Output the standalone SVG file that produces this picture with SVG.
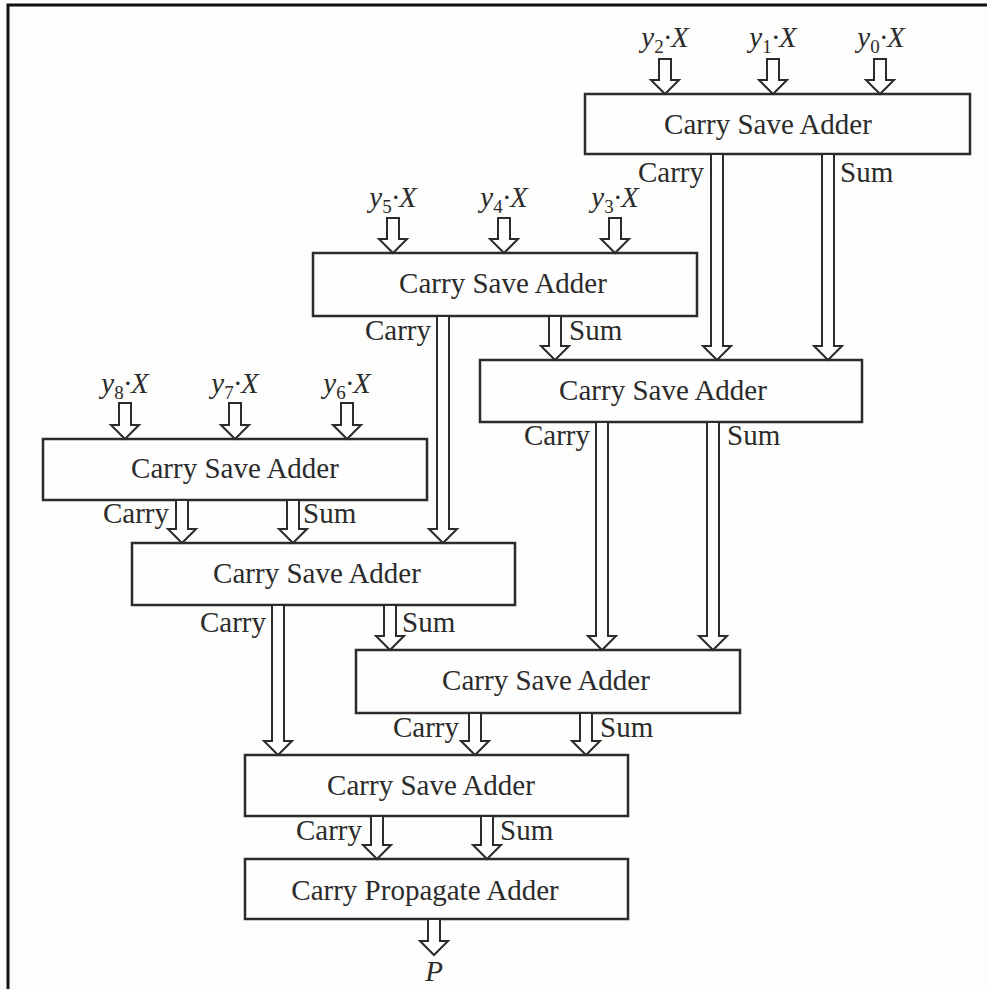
<svg xmlns="http://www.w3.org/2000/svg" width="987" height="989" viewBox="0 0 987 989">
<style>
.bg{fill:#fdfdfb}
.box{fill:#fefefe;stroke:#2b2b2b;stroke-width:2.5}
.t{font-family:"Liberation Serif","Times New Roman",serif;font-size:29px;fill:#2b2b2b}
.m{text-anchor:middle}
.e{text-anchor:end}
.it{font-style:italic}
.sub{font-style:normal;font-size:19px}
.arr{fill:#fefefe;stroke:#2b2b2b;stroke-width:2;stroke-linejoin:miter}
.frame{stroke:#111;stroke-width:3;fill:none}
</style>
<rect class="bg" x="0" y="0" width="987" height="989"/>
<path class="frame" d="M8,989 V5 H987"/>

<g id="csa1">
<rect class="box" x="585" y="94" width="385" height="60"/>
<text class="t m" x="768" y="134">Carry Save Adder</text>
</g>
<g id="csa2">
<rect class="box" x="313" y="253" width="384" height="63"/>
<text class="t m" x="503" y="293">Carry Save Adder</text>
</g>
<g id="csa3">
<rect class="box" x="480" y="360" width="382" height="62"/>
<text class="t m" x="663" y="400">Carry Save Adder</text>
</g>
<g id="csa4">
<rect class="box" x="43" y="439" width="384" height="61"/>
<text class="t m" x="235" y="478">Carry Save Adder</text>
</g>
<g id="csa5">
<rect class="box" x="132" y="543" width="383" height="62"/>
<text class="t m" x="317" y="583">Carry Save Adder</text>
</g>
<g id="csa6">
<rect class="box" x="356" y="650" width="384" height="63"/>
<text class="t m" x="546" y="690">Carry Save Adder</text>
</g>
<g id="csa7">
<rect class="box" x="245" y="755" width="383" height="61"/>
<text class="t m" x="431" y="795">Carry Save Adder</text>
</g>
<g id="cpa">
<rect class="box" x="245" y="859" width="383" height="60"/>
<text class="t m" x="425" y="900">Carry Propagate Adder</text>
</g>

<g id="inputs">
<text class="t m it" x="665" y="47">y<tspan class="sub" dy="6">2</tspan><tspan dy="-6">·X</tspan></text>
<text class="t m it" x="773" y="47">y<tspan class="sub" dy="6">1</tspan><tspan dy="-6">·X</tspan></text>
<text class="t m it" x="881" y="47">y<tspan class="sub" dy="6">0</tspan><tspan dy="-6">·X</tspan></text>
<text class="t m it" x="393" y="207">y<tspan class="sub" dy="6">5</tspan><tspan dy="-6">·X</tspan></text>
<text class="t m it" x="504" y="207">y<tspan class="sub" dy="6">4</tspan><tspan dy="-6">·X</tspan></text>
<text class="t m it" x="615" y="207">y<tspan class="sub" dy="6">3</tspan><tspan dy="-6">·X</tspan></text>
<text class="t m it" x="125" y="393">y<tspan class="sub" dy="6">8</tspan><tspan dy="-6">·X</tspan></text>
<text class="t m it" x="235" y="393">y<tspan class="sub" dy="6">7</tspan><tspan dy="-6">·X</tspan></text>
<text class="t m it" x="347" y="393">y<tspan class="sub" dy="6">6</tspan><tspan dy="-6">·X</tspan></text>
<text id="out-p" class="t m it" x="434" y="981">P</text>
</g>

<g id="connectors">
<polygon class="arr" points="659,59 659,80 651,80 665,94 679,80 671,80 671,59"/>
<polygon class="arr" points="767,59 767,80 759,80 773,94 787,80 779,80 779,59"/>
<polygon class="arr" points="874,59 874,80 866,80 880,94 894,80 886,80 886,59"/>
<polygon class="arr" points="387,218 387,239 379,239 393,253 407,239 399,239 399,218"/>
<polygon class="arr" points="498,218 498,239 490,239 504,253 518,239 510,239 510,218"/>
<polygon class="arr" points="609,218 609,239 601,239 615,253 629,239 621,239 621,218"/>
<polygon class="arr" points="119,403 119,425 111,425 125,439 139,425 131,425 131,403"/>
<polygon class="arr" points="229,403 229,425 221,425 235,439 249,425 241,425 241,403"/>
<polygon class="arr" points="341,403 341,425 333,425 347,439 361,425 353,425 353,403"/>

<polygon class="arr" points="711,154 711,346 703,346 717,360 731,346 723,346 723,154"/>
<polygon class="arr" points="822,154 822,346 814,346 828,360 842,346 834,346 834,154"/>
<polygon class="arr" points="437,316 437,529 429,529 443,543 457,529 449,529 449,316"/>
<polygon class="arr" points="549,316 549,346 541,346 555,360 569,346 561,346 561,316"/>
<polygon class="arr" points="596,422 596,636 588,636 602,650 616,636 608,636 608,422"/>
<polygon class="arr" points="707,422 707,636 699,636 713,650 727,636 719,636 719,422"/>
<polygon class="arr" points="176,500 176,529 168,529 182,543 196,529 188,529 188,500"/>
<polygon class="arr" points="287,500 287,529 279,529 293,543 307,529 299,529 299,500"/>
<polygon class="arr" points="272,605 272,741 264,741 278,755 292,741 284,741 284,605"/>
<polygon class="arr" points="384,605 384,636 376,636 390,650 404,636 396,636 396,605"/>
<polygon class="arr" points="469,713 469,741 461,741 475,755 489,741 481,741 481,713"/>
<polygon class="arr" points="580,713 580,741 572,741 586,755 600,741 592,741 592,713"/>
<polygon class="arr" points="371,816 371,845 363,845 377,859 391,845 383,845 383,816"/>
<polygon class="arr" points="481,816 481,845 473,845 487,859 501,845 493,845 493,816"/>
<polygon class="arr" points="428,919 428,941 420,941 434,955 448,941 440,941 440,919"/>

<text class="t e" x="704" y="182">Carry</text>
<text class="t" x="840" y="182">Sum</text>
<text class="t e" x="431" y="340">Carry</text>
<text class="t" x="569" y="340">Sum</text>
<text class="t e" x="590" y="445">Carry</text>
<text class="t" x="727" y="445">Sum</text>
<text class="t e" x="169" y="523">Carry</text>
<text class="t" x="303" y="523">Sum</text>
<text class="t e" x="266" y="632">Carry</text>
<text class="t" x="402" y="632">Sum</text>
<text class="t e" x="459" y="737">Carry</text>
<text class="t" x="600" y="737">Sum</text>
<text class="t e" x="362" y="840">Carry</text>
<text class="t" x="500" y="840">Sum</text>
</g>
</svg>
